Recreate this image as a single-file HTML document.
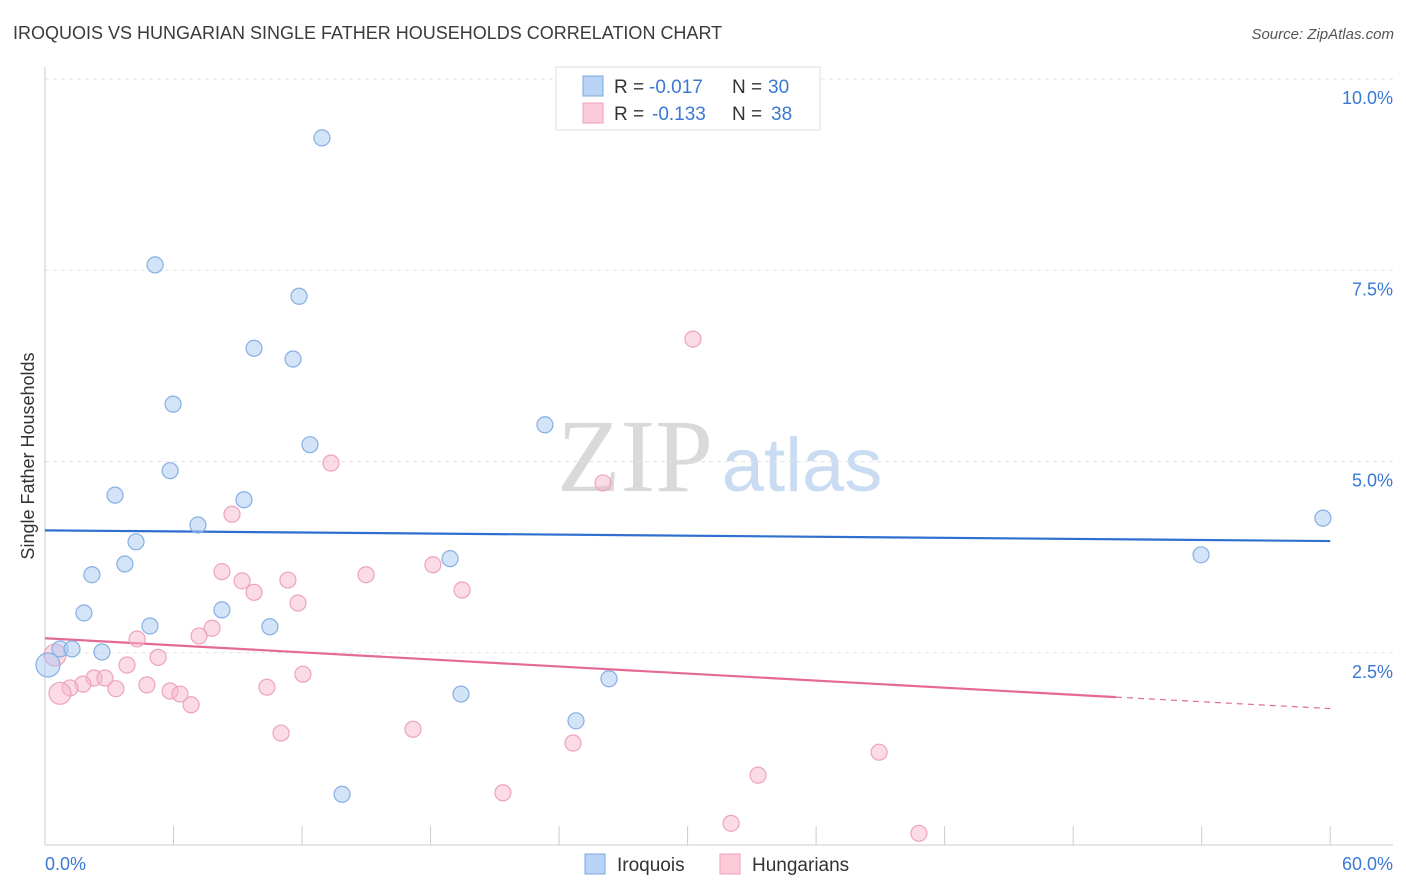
<!DOCTYPE html>
<html><head><meta charset="utf-8"><style>
body{margin:0;background:#fff;font-family:"Liberation Sans",sans-serif;}
svg{display:block}
</style></head><body>
<svg id="chart" width="1406" height="892" viewBox="0 0 1406 892" xmlns="http://www.w3.org/2000/svg">
<text x="13" y="39" font-size="18" fill="#3a3a3a">IROQUOIS VS HUNGARIAN SINGLE FATHER HOUSEHOLDS CORRELATION CHART</text>
<text x="1394" y="39" font-size="15" fill="#555" font-style="italic" text-anchor="end">Source: ZipAtlas.com</text>
<g>
<text x="635" y="491" font-size="104" fill="#d9d9d9" font-family="Liberation Serif, serif" text-anchor="middle">ZIP</text>
<text x="802" y="491" font-size="76" fill="#c9dcf2" text-anchor="middle">atlas</text>
</g>
<g id="grid"></g>
<g id="axes"></g>
<g id="trends"></g>
<g id="points"></g>
<text transform="translate(34,456) rotate(-90)" font-size="18" fill="#333" text-anchor="middle">Single Father Households</text>
<g>
<rect x="556" y="67" width="264" height="63" fill="#fff" stroke="#ddd"/>
<rect x="583" y="76" width="20" height="20" fill="#b8d3f5" stroke="#7aa8e0"/>
<text x="614" y="93" font-size="19" fill="#333">R =</text>
<text x="649" y="93" font-size="19" fill="#3a78d4">-0.017</text>
<text x="732" y="93" font-size="19" fill="#333">N =</text>
<text x="768" y="93" font-size="19" fill="#3a78d4">30</text>
<rect x="583" y="103" width="20" height="20" fill="#fbcbd9" stroke="#eea0b8"/>
<text x="614" y="120" font-size="19" fill="#333">R =</text>
<text x="652" y="120" font-size="19" fill="#3a78d4">-0.133</text>
<text x="732" y="120" font-size="19" fill="#333">N =</text>
<text x="771" y="120" font-size="19" fill="#3a78d4">38</text>
</g>
<g>
<rect x="585" y="854" width="20" height="20" fill="#b8d3f5" stroke="#7aa8e0"/>
<text x="617" y="871" font-size="19" fill="#333">Iroquois</text>
<rect x="720" y="854" width="20" height="20" fill="#fbcbd9" stroke="#eea0b8"/>
<text x="752" y="871" font-size="19" fill="#333">Hungarians</text>
</g>
</svg>
<script>
const yTicks=[2.5,5.0,7.5,10.0];
const yTickLabels=["2.5%","5.0%","7.5%","10.0%"];
const xTickLabels=["0.0%","60.0%"];
const iroquoisX=[12.93,5.14,11.86,9.76,11.58,5.98,23.34,12.37,5.84,3.27,9.29,59.66,7.14,4.25,18.91,53.97,3.73,2.19,1.82,8.26,4.90,10.50,0.70,1.26,2.66,26.33,19.42,24.79,13.87,0.14];
const iroquoisY=[9.23,7.57,7.16,6.48,6.34,5.75,5.48,5.22,4.88,4.56,4.50,4.26,4.17,3.95,3.73,3.78,3.66,3.52,3.02,3.06,2.85,2.84,2.55,2.55,2.51,2.16,1.96,1.61,0.65,2.34];
const hungX=[30.25,13.35,26.05,8.73,8.26,14.99,18.11,9.20,11.34,9.76,19.47,11.81,7.80,7.19,4.30,5.28,3.83,12.04,2.29,2.80,1.77,1.17,4.76,3.31,10.36,5.84,6.30,6.82,0.70,0.47,11.02,17.18,24.65,38.94,33.29,21.38,32.03,40.80];
const hungY=[6.60,4.98,4.72,4.31,3.56,3.52,3.65,3.44,3.45,3.29,3.32,3.15,2.82,2.72,2.68,2.44,2.34,2.22,2.17,2.17,2.09,2.04,2.08,2.03,2.05,2.00,1.96,1.82,1.97,2.47,1.45,1.50,1.32,1.20,0.90,0.67,0.27,0.14];
const bigIroquois=[29];
const bigHung=[28,29];
const iroquoisTrend=[4.10,3.96];
const hungTrend=[2.69,1.92,1.77];
const NS="http://www.w3.org/2000/svg";
const sx=v=>45+v*21.42, sy=v=>844-v*76.5;
function mk(tag,attrs,parent){const e=document.createElementNS(NS,tag);for(const k in attrs)e.setAttribute(k,attrs[k]);document.getElementById(parent).appendChild(e);return e;}
yTicks.forEach((t,i)=>{
 const l=mk('line',{x1:45,x2:1393,y1:sy(t),y2:sy(t),stroke:'#e3e3e3','stroke-dasharray':'4,4'},'grid');
 
 
 const tx=mk('text',{x:1393,y:sy(t)+25,'font-size':18,fill:'#3a78d4','text-anchor':'end'},'axes');
 tx.textContent=yTickLabels[i];
 
 
});
let a=mk('line',{x1:45,x2:45,y1:67,y2:845,stroke:'#ccc'},'axes');


a=mk('line',{x1:45,x2:1393,y1:845,y2:845,stroke:'#ccc'},'axes');


for(let i=0;i<=10;i++){const t=mk('line',{x1:sx(i*6),x2:sx(i*6),y1:826,y2:845,stroke:'#ccc'},'axes');
 
 }
let xl=mk('text',{x:45,y:870,'font-size':18,fill:'#3a78d4'},'axes');xl.textContent=xTickLabels[0];


xl=mk('text',{x:1393,y:870,'font-size':18,fill:'#3a78d4','text-anchor':'end'},'axes');xl.textContent=xTickLabels[1];


let tl=mk('line',{x1:sx(0),y1:sy(iroquoisTrend[0]),x2:sx(60),y2:sy(iroquoisTrend[1]),stroke:'#2f6fcf','stroke-width':2.2},'trends');


tl=mk('line',{x1:sx(0),y1:sy(hungTrend[0]),x2:sx(50),y2:sy(hungTrend[1]),stroke:'#e46a94','stroke-width':2.2},'trends');


tl=mk('line',{x1:sx(50),y1:sy(hungTrend[1]),x2:sx(60),y2:sy(hungTrend[2]),stroke:'#e46a94','stroke-width':1.2,'stroke-dasharray':'6,5'},'trends');


hungX.forEach((x,i)=>{const c=mk('circle',{cx:sx(x),cy:sy(hungY[i]),r:bigHung.includes(i)?11:8,fill:'rgba(248,184,204,0.5)',stroke:'#eda3bb','stroke-width':1.2},'points');
 
 });
iroquoisX.forEach((x,i)=>{const c=mk('circle',{cx:sx(x),cy:sy(iroquoisY[i]),r:bigIroquois.includes(i)?12:8,fill:'rgba(168,200,242,0.5)',stroke:'#86afe4','stroke-width':1.2},'points');
 
 });
</script>
</body></html>
